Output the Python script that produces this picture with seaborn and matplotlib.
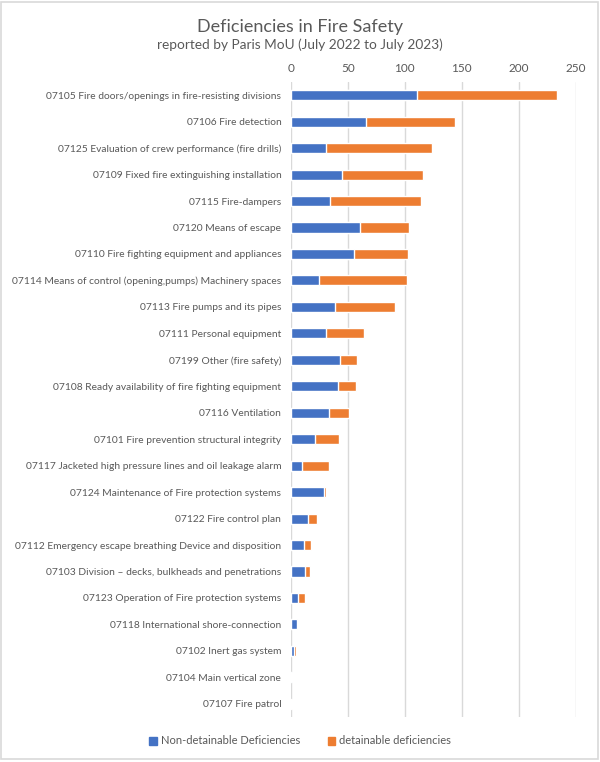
import matplotlib
matplotlib.use("Agg")
import matplotlib.pyplot as plt
import seaborn as sns
import pandas as pd
from matplotlib.patches import Rectangle, Patch

categories = [
    "07105 Fire doors/openings in fire-resisting divisions",
    "07106 Fire detection",
    "07125 Evaluation of crew performance (fire drills)",
    "07109 Fixed fire extinguishing installation",
    "07115 Fire-dampers",
    "07120 Means of escape",
    "07110 Fire fighting equipment and appliances",
    "07114 Means of control (opening,pumps) Machinery spaces",
    "07113 Fire pumps and its pipes",
    "07111 Personal equipment",
    "07199 Other (fire safety)",
    "07108 Ready availability of fire fighting equipment",
    "07116 Ventilation",
    "07101 Fire prevention structural integrity",
    "07117 Jacketed high pressure lines and oil leakage alarm",
    "07124 Maintenance of Fire protection systems",
    "07122 Fire control plan",
    "07112 Emergency escape breathing Device and disposition",
    "07103 Division \u2013 decks, bulkheads and penetrations",
    "07123 Operation of Fire protection systems",
    "07118 International shore-connection",
    "07102 Inert gas system",
    "07104 Main vertical zone",
    "07107 Fire patrol",
]
non_detainable = [111, 66, 31, 45, 34, 61, 55, 25, 39, 31, 43, 41, 33, 21, 10, 29, 15, 11, 12, 6, 5, 3, 1, 0]
detainable = [123, 78, 93, 71, 80, 43, 48, 77, 52, 33, 15, 16, 18, 21, 23, 2, 8, 7, 5, 6, 0, 1, 0, 1]
x_ticks = [0, 50, 100, 150, 200, 250]

BLUE = "#4472C4"
ORANGE = "#ED7D31"
GREY = "#595959"
FONT = ["Lato", "DejaVu Sans"]

sns.set_theme(style="white")
plt.rcParams["font.family"] = FONT

df = pd.DataFrame({"cat": categories, "nd": non_detainable, "d": detainable})
df["total"] = df["nd"] + df["d"]

fig = plt.figure(figsize=(6, 7.62), dpi=100)
ax = fig.add_axes([291/600, 1-717/762, (575.5-291)/600, (717-82)/762])

sns.barplot(data=df, x="total", y="cat", color=ORANGE, width=0.38, ax=ax,
            saturation=1, orient="h", zorder=2)
sns.barplot(data=df, x="nd", y="cat", color=BLUE, width=0.38, ax=ax,
            saturation=1, orient="h", zorder=3)

ax.set_xlim(0, 250)
ax.set_ylim(len(categories) - 0.5, -0.5)
ax.set_xticks(x_ticks)
ax.xaxis.tick_top()
ax.set_xlabel("")
ax.set_ylabel("")
ax.tick_params(axis="x", length=0, pad=6, labelsize=8.5, labelcolor=GREY)
ax.tick_params(axis="y", length=0, pad=7, labelsize=7.4, labelcolor=GREY)
ax.grid(axis="x", color="#d9d9d9", linewidth=1, zorder=0)
ax.set_axisbelow(True)
for s in ax.spines.values():
    s.set_visible(False)

fig.text(0.5, 1-27/762, "Deficiencies in Fire Safety", ha="center", va="center",
         fontsize=13, color=GREY)
fig.text(0.5, 1-45/762, "reported by Paris MoU (July 2022 to July 2023)", ha="center",
         va="center", fontsize=9.8, color=GREY)

handles = [Patch(color=BLUE, label="Non-detainable Deficiencies"),
           Patch(color=ORANGE, label="detainable deficiencies")]
fig.legend(handles=handles, loc="center", bbox_to_anchor=(0.5, 1-741/762), ncol=2,
           frameon=False, fontsize=8, labelcolor=GREY, handlelength=0.7,
           handleheight=0.7, handletextpad=0.3, columnspacing=2.5)

fig.patches.append(Rectangle((1/600, 1-759/762), 596.5/600, 757/762, transform=fig.transFigure,
                             fill=False, edgecolor="#d9d9d9", linewidth=1.2))

fig.savefig("out.png", dpi=100, facecolor="white")
